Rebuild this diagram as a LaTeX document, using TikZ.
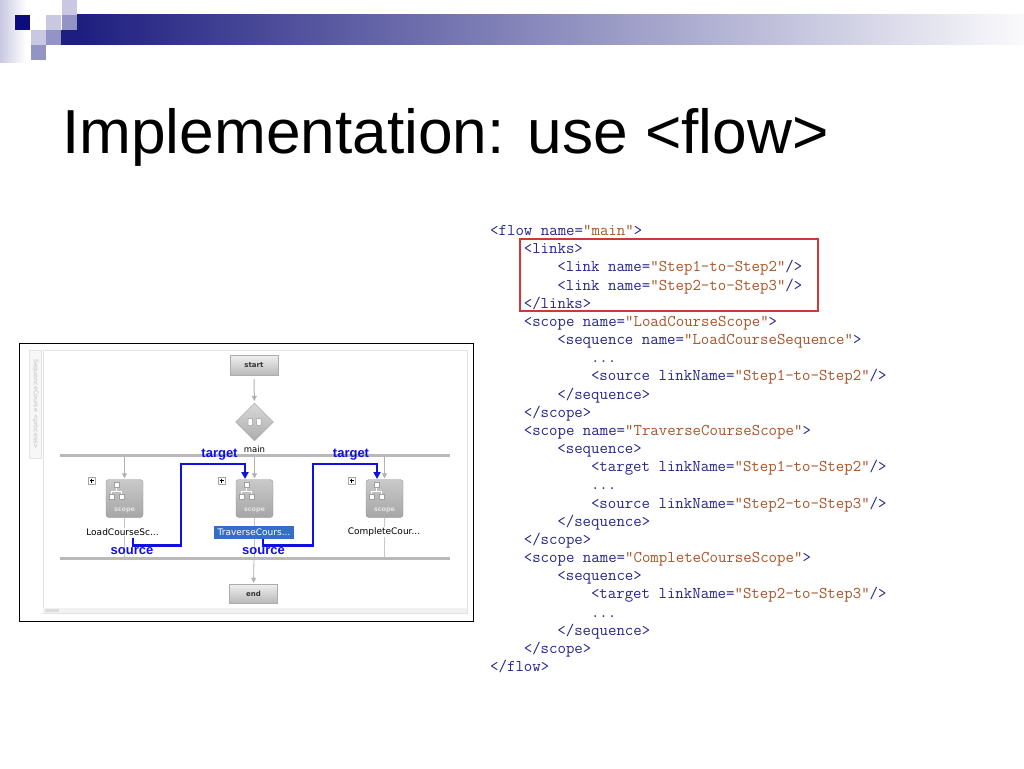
\documentclass[tikz,border=0pt]{standalone}
\usepackage{fontspec}
\setmainfont{Liberation Sans}
\newfontfamily\uifont{DejaVu Sans}
\usetikzlibrary{arrows.meta,shapes.geometric,calc}

\definecolor{tagblue}{RGB}{38,38,140}
\definecolor{valbrown}{RGB}{168,84,40}
\definecolor{boxred}{RGB}{208,56,56}
\definecolor{linkblue}{RGB}{16,16,225}
\definecolor{navydark}{RGB}{12,12,125}
\definecolor{barnavy}{RGB}{30,30,128}
\definecolor{barmid}{RGB}{160,160,182}
\definecolor{barend}{RGB}{250,250,252}
\definecolor{lavlight}{RGB}{200,200,226}
\definecolor{lavmid}{RGB}{148,148,196}
\definecolor{hlblue}{RGB}{52,110,200}

\newcommand\vl[1]{\textcolor{valbrown}{#1}}
\newcommand\codeln[3]{\node[codeline] (cl#1) at ({490+33.6*#2},{235.5+18.17*#1}) {#3};}
\newcommand\scopedeco[1]{%
  \draw[iconline] ($(#1.center)+(-8,-11)$) -- ($(#1.center)+(-8,-7.5)$);
  \draw[iconline] ($(#1.center)+(-13,-4.5)$) -- ($(#1.center)+(-13,-7.5)$) -- ($(#1.center)+(-3,-7.5)$) -- ($(#1.center)+(-3,-4.5)$);
  \path[iconsq] ($(#1.center)+(-10.5,-16)$) rectangle ($(#1.center)+(-5.5,-11)$);
  \path[iconsq] ($(#1.center)+(-15.5,-4.5)$) rectangle ($(#1.center)+(-10.5,0.5)$);
  \path[iconsq] ($(#1.center)+(-5.5,-4.5)$) rectangle ($(#1.center)+(-0.5,0.5)$);
  \node[scopetxt] (#1txt) at ($(#1.center)+(0,11.5)$) {scope};
}

\tikzset{
  codeline/.style={anchor=base west, inner sep=0pt, text=tagblue,
    font=\ttfamily\fontsize{16.4}{18}\selectfont\addfontfeatures{FakeBold=0.5}},
  termbox/.style={rectangle, minimum width=48pt, minimum height=20pt, inner sep=0pt,
    draw=gray!65, top color=gray!12, bottom color=gray!55,
    font=\uifont\bfseries\fontsize{7}{8}\selectfont, text=black!80},
  scopebox/.style={rectangle, rounded corners=3pt, minimum width=37pt, minimum height=38pt,
    inner sep=0pt, draw=gray!85, top color=gray!42, bottom color=gray!70},
  iconsq/.style={fill=white, draw=gray!75, line width=0.5pt},
  iconline/.style={draw=white, line width=0.7pt},
  scopetxt/.style={inner sep=0pt, text=gray!22, font=\uifont\bfseries\fontsize{6.4}{7}\selectfont},
  grayarrow/.style={draw=gray!60, line width=1pt, -{Triangle[length=5pt,width=5pt]}},
  thinline/.style={draw=gray!45, line width=0.6pt},
  bar/.style={draw=gray!55, line width=3pt},
  link/.style={draw=linkblue, line width=2.2pt, -{Triangle[length=7pt,width=7pt]}},
  linklbl/.style={inner sep=0pt, text=linkblue, font=\bfseries\fontsize{13}{14}\selectfont},
  uilbl/.style={inner sep=0.6pt, fill=white, font=\uifont\fontsize{9}{10}\selectfont, text=black},
  plusbox/.style={rectangle, draw=gray!70, fill=white, minimum size=7pt, inner sep=0pt,
    path picture={\draw[black, line width=0.5pt]
      ([xshift=1.5pt]path picture bounding box.west) -- ([xshift=-1.5pt]path picture bounding box.east)
      ([yshift=-1.5pt]path picture bounding box.north) -- ([yshift=1.5pt]path picture bounding box.south);}},
}

\begin{document}
\begin{tikzpicture}[x=1pt, y=-1pt]
\useasboundingbox (0,0) rectangle (1024,768);
\fill[white] (0,0) rectangle (1024,768);

% ---- header decoration ----
\shade[left color=lavlight, right color=white] (0,0) rectangle (26,62);
\shade[left color=barnavy, middle color=barmid, right color=barend] (77,15) rectangle (1024,45);
\fill[barnavy] (61,30) rectangle (77.5,45);
\fill[navydark] (15,15) rectangle (30,30);
\fill[lavlight] (62,0) rectangle (77,15);
\fill[lavlight] (46,15) rectangle (61,30);
\fill[lavmid] (62,15) rectangle (77,30);
\fill[lavlight] (31,30) rectangle (46,45);
\fill[lavmid] (46,30) rectangle (61,45);
\fill[lavmid] (31,45) rectangle (46,60);

% ---- title ----
\node[anchor=base west, inner sep=0pt, font=\fontsize{62.2}{70}\selectfont] (title) at (62,153) {Implementation: use <flow>};

% ---- screenshot frame ----
\draw[black, line width=1pt] (19,343) rectangle (473,621);
\draw[gray!22, fill=white] (43,350) rectangle (467,613);
\draw[gray!22, fill=gray!6] (29,350) rectangle (41,458);
\node[rotate=-90, inner sep=0pt, text=gray!50, font=\uifont\fontsize{6.3}{7}\selectfont] (tab) at (35.5,404) {SequenceCourse <process>};
\fill[gray!10] (43,608) rectangle (467,613);
\fill[gray!28] (45,609) rectangle (59,612);

% ---- bars ----
\coordinate (barAL) at (60,455); \coordinate (barAR) at (450,455);
\coordinate (barBL) at (60,558); \coordinate (barBR) at (450,558);
\draw[bar] (barAL) -- (barAR);
\draw[bar] (barBL) -- (barBR);

% ---- nodes ----
\node[termbox] (start) at (254,365) {start};
\node[diamond, aspect=1, minimum width=38pt, minimum height=38pt, inner sep=0pt,
      draw=gray!75, top color=gray!30, bottom color=gray!65] (dia) at (254.5,422) {};
\draw[gray!75, fill=white, line width=0.5pt, rounded corners=0.8pt] ($(dia.center)+(-6.5,-3.5)$) rectangle ($(dia.center)+(-2,3.5)$);
\draw[gray!75, fill=white, line width=0.5pt, rounded corners=0.8pt] ($(dia.center)+(2,-3.5)$) rectangle ($(dia.center)+(6.5,3.5)$);
\node[inner sep=0pt, font=\uifont\fontsize{8.5}{9}\selectfont] (mainlbl) at (254.5,449) {main};

\node[scopebox] (s1) at (124.5,498.5) {};
\node[scopebox] (s2) at (254.5,498.5) {};
\node[scopebox] (s3) at (384.5,498.5) {};
\scopedeco{s1}
\scopedeco{s2}
\scopedeco{s3}

\node[plusbox] (p1) at (91.5,480.5) {};
\node[plusbox] (p2) at (221.5,480.5) {};
\node[plusbox] (p3) at (351.5,480.5) {};

\node[termbox, minimum height=19pt] (end) at (253.5,593.5) {end};

% ---- gray connectors ----
\draw[grayarrow, shorten <=4pt, shorten >=2pt] (start) -- (dia);
\coordinate (t1) at (124.5,457); \coordinate (t2) at (254.5,457); \coordinate (t3) at (384.5,457);
\draw[grayarrow, shorten >=1pt] (t1) -- (s1.north);
\draw[grayarrow, shorten >=1pt] (t2) -- (s2.north);
\draw[grayarrow, shorten >=1pt] (t3) -- (s3.north);
\coordinate (u1) at (124.5,557); \coordinate (u2) at (254.5,557); \coordinate (u3) at (384.5,557);
\draw[thinline] (s1.south) -- (u1);
\draw[thinline] (s2.south) -- (u2);
\draw[thinline] (s3.south) -- (u3);
\coordinate (u2b) at (254,559);
\draw[grayarrow, line width=0.8pt, shorten >=1pt] (u2b) -- (end.north);

% ---- labels ----
\node[uilbl] (n1) at (122.5,532) {LoadCourseSc...};
\node[uilbl, fill=hlblue, text=white, minimum width=80pt, minimum height=13pt] (n2) at (254,532.5) {TraverseCours...};
\node[uilbl] (n3) at (384,532) {CompleteCour...};

% ---- blue links ----
\coordinate (src1) at (133,537.5); \coordinate (tgt1) at (245,479);
\coordinate (src2) at (263,538.5); \coordinate (tgt2) at (377,479);
\draw[link] (src1) -- ++(0,8) -| (181,464) -| (tgt1);
\draw[link] (src2) -- ++(0,7) -| (313,464) -| (tgt2);

\node[linklbl] (tg1) at (219.5,454.5) {target};
\node[linklbl] (tg2) at (351,454.5) {target};
\node[linklbl] (so1) at (132,551.5) {source};
\node[linklbl] (so2) at (263.5,551.5) {source};

% ---- code ----
\draw[boxred, line width=1.1pt] (520,239) rectangle (818,311);
\codeln{0}{0}{<flow name=\vl{"main"}>}
\codeln{1}{1}{<links>}
\codeln{2}{2}{<link name=\vl{"Step1-to-Step2"}/>}
\codeln{3}{2}{<link name=\vl{"Step2-to-Step3"}/>}
\codeln{4}{1}{</links>}
\codeln{5}{1}{<scope name=\vl{"LoadCourseScope"}>}
\codeln{6}{2}{<sequence name=\vl{"LoadCourseSequence"}>}
\codeln{7}{3}{...}
\codeln{8}{3}{<source linkName=\vl{"Step1-to-Step2"}/>}
\codeln{9}{2}{</sequence>}
\codeln{10}{1}{</scope>}
\codeln{11}{1}{<scope name=\vl{"TraverseCourseScope"}>}
\codeln{12}{2}{<sequence>}
\codeln{13}{3}{<target linkName=\vl{"Step1-to-Step2"}/>}
\codeln{14}{3}{...}
\codeln{15}{3}{<source linkName=\vl{"Step2-to-Step3"}/>}
\codeln{16}{2}{</sequence>}
\codeln{17}{1}{</scope>}
\codeln{18}{1}{<scope name=\vl{"CompleteCourseScope"}>}
\codeln{19}{2}{<sequence>}
\codeln{20}{3}{<target linkName=\vl{"Step2-to-Step3"}/>}
\codeln{21}{3}{...}
\codeln{22}{2}{</sequence>}
\codeln{23}{1}{</scope>}
\codeln{24}{0}{</flow>}
\end{tikzpicture}
\end{document}
